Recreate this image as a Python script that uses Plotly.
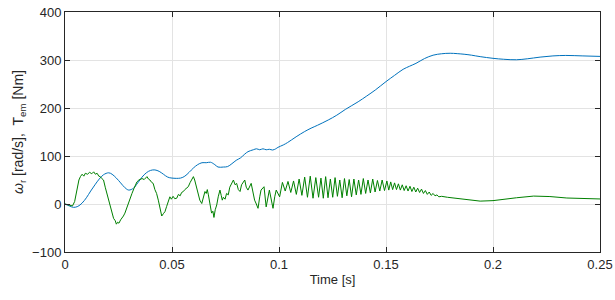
import plotly.graph_objects as go

# Rotor speed omega_r [rad/s]
t_w = [0, 0.002, 0.004, 0.006, 0.008, 0.010, 0.012, 0.014, 0.016, 0.018, 0.0204, 0.022, 0.024,
       0.026, 0.028, 0.0298, 0.032, 0.034, 0.036, 0.038, 0.040, 0.042, 0.044, 0.046, 0.048, 0.050,
       0.054, 0.056, 0.058, 0.060, 0.062, 0.064, 0.066, 0.068, 0.070, 0.0715, 0.074, 0.076, 0.078,
       0.080, 0.082, 0.084, 0.0855, 0.088, 0.0895, 0.091, 0.0925, 0.094, 0.0955, 0.097, 0.0985,
       0.0995, 0.102, 0.104, 0.108, 0.112, 0.115, 0.118, 0.123, 0.127, 0.131, 0.137, 0.141, 0.145,
       0.150, 0.154, 0.158, 0.161, 0.164, 0.168, 0.172, 0.176, 0.180, 0.1865, 0.190, 0.194, 0.200,
       0.205, 0.211, 0.216, 0.222, 0.228, 0.234, 0.242, 0.250]
omega = [0, -4, -7, -5, 2, 13, 27, 40, 52, 61, 65, 62, 54,
         44, 34, 29, 33, 44, 56, 65, 70, 71, 68, 62, 56, 54,
         54, 58, 66, 75, 82, 86, 86, 87, 82, 77, 77, 78, 84,
         91, 96, 104, 109, 113, 115, 113, 115, 113, 114, 112.5, 115,
         118, 123, 128, 140, 151, 158, 164, 175, 185, 197, 213, 225, 237.5,
         255, 268, 280.6, 287, 293, 303, 310, 313, 314, 312, 310, 307, 303.5,
         301.5, 300.5, 302.5, 306, 308.5, 309.5, 308.5, 307.5]

# Electromagnetic torque T_em [Nm]
t_T = [0.000, 0.002, 0.0035, 0.0045, 0.0056, 0.0065, 0.0072, 0.008, 0.0088, 0.0095, 0.0105,
       0.0115, 0.0125, 0.0134, 0.0142, 0.015, 0.0158, 0.0165, 0.0172, 0.018, 0.0188, 0.0196,
       0.0204, 0.0212, 0.022, 0.0227, 0.0235, 0.024, 0.0246, 0.0252, 0.026, 0.0266, 0.0273,
       0.028, 0.0288, 0.0297, 0.0305, 0.0313, 0.0322, 0.033, 0.0336, 0.0345, 0.036, 0.037,
       0.0383, 0.039, 0.0397, 0.0405, 0.0412, 0.042, 0.0428, 0.0436, 0.0444, 0.0452, 0.046,
       0.0467, 0.0475, 0.0483, 0.049, 0.0497, 0.0505, 0.0513, 0.0522, 0.053, 0.0538, 0.0545,
       0.0553, 0.056, 0.0568, 0.0576, 0.0585, 0.0593, 0.060, 0.0606, 0.0612, 0.0618, 0.0623,
       0.063, 0.0639, 0.0646, 0.0654, 0.066, 0.0665, 0.067, 0.0678, 0.0685, 0.0691, 0.0696,
       0.0702, 0.0709, 0.0716, 0.0724, 0.073, 0.0735, 0.074, 0.0748, 0.0755, 0.0763, 0.077,
       0.078, 0.0787, 0.0795, 0.0802, 0.081, 0.0818, 0.0825, 0.084, 0.0847, 0.0855, 0.087,
       0.0878, 0.0886, 0.0894, 0.0902, 0.091, 0.0916, 0.093, 0.0935, 0.094, 0.0955, 0.0963,
       0.0972, 0.098, 0.0987, 0.1003,
       0.1016, 0.1029, 0.1042, 0.1055, 0.1068, 0.1081, 0.1094, 0.1107, 0.1120, 0.1133, 0.1146,
       0.1159, 0.1172, 0.1185,
       0.1196, 0.1207, 0.1218, 0.1229, 0.1240, 0.1251, 0.1262, 0.1273, 0.1284, 0.1295, 0.1306,
       0.1317, 0.1328, 0.1339, 0.1350, 0.1361, 0.1372, 0.1383, 0.1394, 0.1405, 0.1416, 0.1427,
       0.1438, 0.1449, 0.1460, 0.1471, 0.1482, 0.1493, 0.1504,
       0.1513, 0.1522, 0.1531, 0.1540, 0.1549, 0.1558, 0.1567, 0.1576, 0.1585, 0.1594, 0.1603,
       0.1612, 0.1621, 0.1630, 0.1639, 0.1648, 0.1657, 0.1666, 0.1675, 0.1684, 0.1693, 0.1702,
       0.1711, 0.1720, 0.1729, 0.1738, 0.1747, 0.1760, 0.1787, 0.182, 0.1864, 0.19, 0.194,
       0.200, 0.205, 0.211, 0.219, 0.2266, 0.2345, 0.242, 0.250]
torque = [0, -2, -4, 5, 33, 50, 57, 62, 58, 64, 62,
          66, 63, 67, 62, 64, 58, 57, 53, 50, 35, 22,
          8, -6, -18, -30, -35, -42, -38, -40, -33, -30, -25,
          -19, -8, 1, 12, 22, 32, 40, 46, 50, 53, 51,
          57, 52, 50, 45, 43, 30, 22, 8, -6, -25, -20,
          -16, -5, 8, 15, 10, 16, 11, 12, 20, 17, 24,
          26, 30, 33, 36, 45, 52, 57, 50, 38, 30, 19,
          8, 1, 15, 26, 22, 30, 19, -5, -19, -15, -28,
          -12, -2, 15, 29, 18, 8, 14, 10, 22, 19, 35,
          45, 50, 40, 43, 30, 26, 40, 50, 35, 29, 43,
          25, 8, 0, -9, 15, 29, 36, 15, -6, 29, 10,
          -9, 15, 29, 15,
          45, 27, 47, 24, 48, 20, 52, 18, 56, 14, 58,
          12, 55, 14,
          54, 12, 57, 13, 52, 14, 55, 16, 50, 13, 53,
          17, 51, 15, 52, 19, 50, 20, 53, 22, 50, 23,
          52, 25, 49, 27, 50, 28, 48,
          29, 46, 30, 44, 30, 42, 29, 40, 28, 38, 27,
          37, 26, 35, 25, 33, 24, 31, 22, 28, 20, 25,
          18, 22, 17, 19, 15, 16, 14, 12, 10, 8, 6,
          7, 10, 13, 16.5, 15.5, 12.5, 11, 10.5]

x_ticks = [0, 0.05, 0.1, 0.15, 0.2, 0.25]
x_labels = ["0", "0.05", "0.1", "0.15", "0.2", "0.25"]
y_ticks = [-100, 0, 100, 200, 300, 400]

FONT = "Liberation Sans, Arial, sans-serif"

fig = go.Figure()
fig.add_trace(go.Scatter(x=t_w, y=omega, mode="lines", line=dict(color="#0072BD", width=1),
                         line_shape="spline", showlegend=False))
fig.add_trace(go.Scatter(x=t_T, y=torque, mode="lines", line=dict(color="#008000", width=1),
                         showlegend=False))

axis_common = dict(showline=True, linecolor="#262626", linewidth=1, mirror="ticks",
                   ticks="inside", ticklen=5, tickcolor="#262626", showgrid=True,
                   gridcolor="#e3e3e3", gridwidth=1, zeroline=False, automargin=False,
                   tickfont=dict(family=FONT, size=13, color="#262626"))

fig.update_xaxes(range=[0, 0.25], tickvals=x_ticks, ticktext=x_labels,
                 title=dict(text="Time [s]", standoff=4,
                            font=dict(family=FONT, size=13, color="#262626")),
                 **axis_common)
fig.update_yaxes(range=[-100, 400], tickvals=y_ticks,
                 title=dict(text="<i>ω</i><sub>r</sub> [rad/s],  T<sub>em</sub> [Nm]", standoff=5,
                            font=dict(family=FONT, size=14, color="#262626")),
                 **axis_common)

fig.update_layout(width=615, height=300, margin=dict(l=65, r=15, t=12, b=48),
                  plot_bgcolor="white", paper_bgcolor="white")

fig.write_html("out.html", config={"displayModeBar": False},
               post_script="document.body.style.margin='0';")
